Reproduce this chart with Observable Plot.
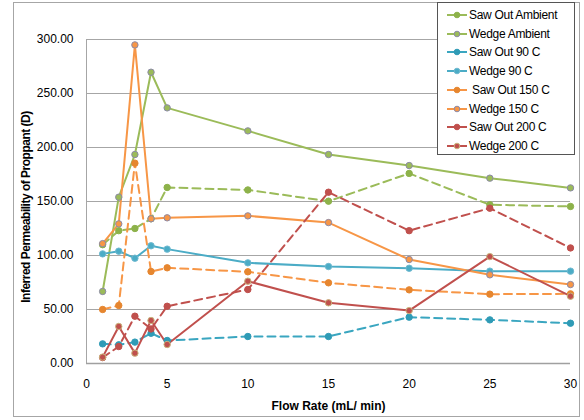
<!DOCTYPE html>
<html>
<head>
<meta charset="utf-8">
<script src="https://cdn.jsdelivr.net/npm/d3@7"></script>
<script src="https://cdn.jsdelivr.net/npm/@observablehq/plot@0.6"></script>
<style>
  body { margin: 0; background: #fff; }
  #wrap { position: relative; width: 584px; height: 420px; font-family: "Liberation Sans", Arial, sans-serif; }
  #border { position: absolute; left: 13px; top: 2px; width: 567px; height: 415px; border: 1px solid #a6a6a6; box-sizing: border-box; pointer-events: none; }
  #legend { position: absolute; left: 437px; top: 2px; width: 138px; height: 153px; border: 1px solid #555; background: #fff; box-sizing: border-box; font-size: 12px; letter-spacing: -0.3px; color: #000; }
  .li { position: absolute; left: 8px; height: 18px; display: flex; align-items: center; white-space: pre; }
  .li svg { margin-right: 1px; }
  #chart svg { position: absolute; left: 0; top: 0; }
</style>
</head>
<body>
<div id="wrap">
  <div id="chart"></div>
  <div id="border"></div>
  <div id="legend"></div>
</div>
<script>
const flowRate = [1, 2, 3, 4, 5, 10, 15, 20, 25, 30];
const seriesNames = ["Saw Out Ambient", "Wedge Ambient", "Saw Out 90 C", "Wedge 90 C", " Saw Out 150 C", "Wedge 150 C", "Saw Out 200 C", "Wedge 200 C"];
const sawOutAmbient = [110, 123, 125, 134, 163, 160.7, 150.3, 176, 147, 145.4];
const wedgeAmbient = [66.7, 154, 193.5, 269.7, 236.7, 215.4, 193.5, 183.3, 171.6, 162.6];
const sawOut90 = [18.2, 17.3, 19.8, 28, 21.3, 25, 25, 42.9, 40.4, 37.3];
const wedge90 = [101.5, 104, 97.5, 109, 105.9, 93.2, 89.8, 88.2, 85.5, 85.5];
const sawOut150 = [50, 53.7, 185.5, 85.2, 88.6, 84.9, 74.7, 68.2, 64.2, 64.5];
const wedge150 = [111, 129.3, 295, 134, 134.9, 136.7, 130.5, 96.3, 82.1, 73.1];
const sawOut200 = [5.5, 15.7, 43.8, 32, 53, 68.5, 158.6, 123, 143.8, 107];
const wedge200 = [5.9, 34.3, 9.6, 39.8, 17.6, 76.2, 56.2, 49, 99, 62.3];
const yTicks = [0, 50, 100, 150, 200, 250, 300];
const xTicks = [0, 5, 10, 15, 20, 25, 30];

const styles = [
  {line: "#9bbb59", fill: "#8db24a", stroke: "#8db24a", dash: "8,5"},
  {line: "#9bbb59", fill: "#9bbb59", stroke: "#8c8aa8", dash: null},
  {line: "#3aa6c0", fill: "#2f9bb6", stroke: "#2f9bb6", dash: "8,5"},
  {line: "#4bacc6", fill: "#4bacc6", stroke: "#6fb9d0", dash: null},
  {line: "#f79646", fill: "#e6862f", stroke: "#e6862f", dash: "8,5"},
  {line: "#f79646", fill: "#f79646", stroke: "#8c8aa8", dash: null},
  {line: "#c0504d", fill: "#c0504d", stroke: "#c0504d", dash: "8,5"},
  {line: "#c0504d", fill: "#c0504d", stroke: "#c8b47c", dash: null}
];
const allValues = [sawOutAmbient, wedgeAmbient, sawOut90, wedge90, sawOut150, wedge150, sawOut200, wedge200];

const data = [];
allValues.forEach((vals, i) => vals.forEach((v, j) => data.push({series: i, x: flowRate[j], y: v})));

const marks = [
  Plot.ruleY(yTicks.filter(d => d > 0), {stroke: "#a6a6a6", strokeWidth: 1}),
  Plot.ruleX([0], {stroke: "#a6a6a6", strokeWidth: 1}),
  Plot.ruleY([0], {stroke: "#a0a0a0", strokeWidth: 1.5}),
  Plot.axisY({ticks: yTicks, tickFormat: d3.format(".2f"), tickSize: 0, tickPadding: 13, fontSize: 12, label: null}),
  Plot.axisX({ticks: xTicks, tickFormat: d => String(d), tickSize: 0, tickPadding: 16, fontSize: 12, label: null})
];
allValues.forEach((vals, i) => {
  const s = styles[i];
  const d = data.filter(r => r.series === i);
  marks.push(Plot.line(d, {x: "x", y: "y", stroke: s.line, strokeWidth: 2, strokeDasharray: s.dash || undefined}));
});
allValues.forEach((vals, i) => {
  const s = styles[i];
  const d = data.filter(r => r.series === i);
  marks.push(Plot.dot(d, {x: "x", y: "y", r: 3.2, fill: s.fill, stroke: s.stroke, strokeWidth: 1}));
});

const chart = Plot.plot({
  width: 584,
  height: 420,
  marginLeft: 86,
  marginRight: 14,
  marginTop: 39,
  marginBottom: 57,
  style: {fontFamily: "'Liberation Sans', Arial, sans-serif", fontSize: "12px", color: "#000", background: "transparent"},
  x: {domain: [0, 30]},
  y: {domain: [0, 300]},
  marks: marks.concat([
    Plot.text(["Flow Rate (mL/ min)"], {frameAnchor: "bottom", dy: 46, fontWeight: "bold", fontSize: 12, fill: "#000", style: "letter-spacing:-0.5px"}),
  ])
});
const svg = d3.select(chart);
svg.append("text")
  .attr("transform", "translate(30,207) rotate(-90)")
  .attr("text-anchor", "middle")
  .attr("font-weight", "bold")
  .attr("font-size", 12)
  .attr("letter-spacing", "-0.5px")
  .attr("fill", "#000")
  .text("Inferred Permeability of Proppant (D)");
document.getElementById("chart").appendChild(chart);

const legend = document.getElementById("legend");
seriesNames.forEach((name, i) => {
  const s = styles[i];
  const div = document.createElement("div");
  div.className = "li";
  div.style.top = (3 + i * 18.7) + "px";
  div.innerHTML = `<svg width="22" height="10"><line x1="1" x2="21" y1="5" y2="5" stroke="${s.line}" stroke-width="2"/>` +
    `<circle cx="11" cy="5" r="2.8" fill="${s.fill}" stroke="${s.stroke}" stroke-width="1"/></svg><span>${name}</span>`;
  legend.appendChild(div);
});
</script>
</body>
</html>
